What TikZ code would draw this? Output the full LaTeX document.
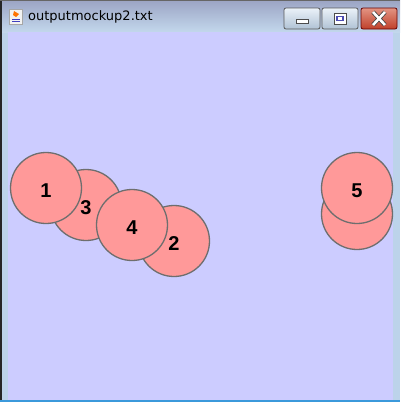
\documentclass[tikz,border=0pt]{standalone}
\usepackage{fontspec}
\setmainfont{Liberation Sans}
\newfontfamily\titlefont{DejaVu Sans}
\usetikzlibrary{positioning}

\definecolor{canvas}{HTML}{CCCCFF}
\definecolor{ballfill}{HTML}{FF9999}
\definecolor{balledge}{HTML}{6E6E6E}
\definecolor{frameblue}{HTML}{BCD3EA}
\definecolor{closered}{HTML}{C0402A}
\definecolor{closetop}{HTML}{E39483}

\tikzset{
  ball/.style={circle, draw=balledge, line width=1.3pt, fill=ballfill,
    minimum size=71pt, inner sep=0pt, text height=18pt, text depth=0pt,
    font=\fontsize{20}{22}\selectfont\bfseries},
  winbtn/.style={draw=gray!70!black, rounded corners=2pt, line width=0.8pt,
    top color=white!70!frameblue, bottom color=frameblue!80!gray}
}

\begin{document}
\begin{tikzpicture}[x=1pt,y=-1pt]
\useasboundingbox (0,0) rectangle (400,402);

% window frame
\fill[frameblue] (0,0) rectangle (400,402);
\shade[top color=white!25!frameblue!85!blue!60!gray, bottom color=frameblue!90!white]
  (0,0) rectangle (400,32);
\draw[black!85, line width=1.5pt] (0.75,402) -- (0.75,0);
\draw[gray!80!black, line width=0.8pt] (0,0.5) -- (400,0.5);
\fill[cyan!70!blue!80] (0,400) rectangle (400,402);

% canvas
\fill[canvas] (8,32) rectangle (393,400);

% title bar
\fill[white!90!gray] (9,9) rectangle (22,24);
\draw[gray!70, line width=0.5pt] (9,9) rectangle (22,24);
\fill[orange!90!red] (14,11) -- (19,14) -- (16,17) -- (13,15) -- cycle;
\draw[blue!50!gray, line width=1pt] (12,19) -- (20,19) (12,21.5) -- (20,21.5);
\node[anchor=west, inner sep=0pt] (title) at (28,17)
  {\titlefont\fontsize{13}{15}\selectfont outputmockup2.txt};

% buttons
\draw[winbtn] (284,8) rectangle (320,29);
\fill[white] (296,19) rectangle (308,23);
\draw[gray!60!black, line width=0.6pt] (296,19) rectangle (308,23);
\draw[winbtn] (322,8) rectangle (358,29);
\fill[white] (334,13) rectangle (346,24);
\draw[gray!60!black, line width=0.8pt] (334,13) rectangle (346,24);
\draw[gray!60!blue, line width=1.2pt] (337,16.5) rectangle (343,20.5);
\draw[draw=red!40!black, rounded corners=2pt, line width=0.8pt,
  top color=closetop, bottom color=closered] (361,8) rectangle (397,29);
\draw[gray!50!black, line width=4.2pt] (373,12) -- (385,25) (385,12) -- (373,25);
\draw[white, line width=2.6pt] (373,12) -- (385,25) (385,12) -- (373,25);

% circles
\node[ball] (c3) at (86,205) {3};
\node[ball] (c2) at (174,241) {2};
\node[ball] (c1) at (46,188) {1};
\node[ball] (c4) at (132,225) {4};
\node[ball] (c6) at (357,214) {};
\node[ball] (c5) at (357,188) {5};
\end{tikzpicture}
\end{document}
